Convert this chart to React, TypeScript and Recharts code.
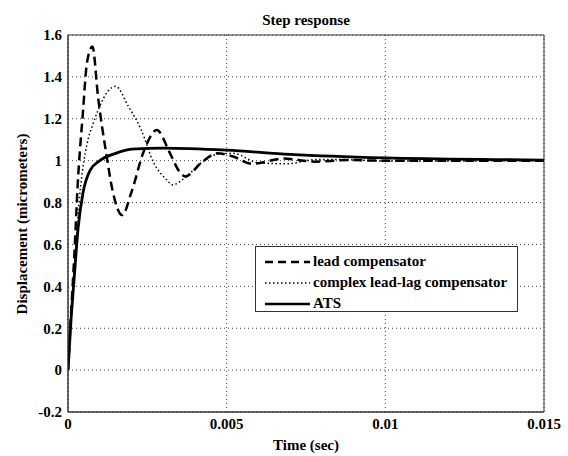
import { CartesianGrid, Legend, Line, LineChart, ReferenceArea, XAxis, YAxis } from "recharts";

// time samples (sec) and displacement (micrometers)
const leadTime = [0, 0.0001, 0.0002, 0.0003, 0.00047, 0.0006, 0.00077, 0.00095, 0.00122, 0.0014, 0.00171, 0.002, 0.0024, 0.0028, 0.0032, 0.0035, 0.0037, 0.0042, 0.0047, 0.0052, 0.0058, 0.0068, 0.0078, 0.0088, 0.01, 0.015];
const leadValue = [0, 0.28, 0.55, 0.87, 1.23, 1.47, 1.545, 1.3, 1.02, 0.86, 0.74, 0.85, 1.05, 1.146, 1.04, 0.95, 0.925, 0.99, 1.035, 1.02, 0.985, 1.01, 0.995, 1.003, 1.0, 1.0];

const lagTime = [0, 0.0002, 0.0004, 0.0006, 0.0008, 0.001, 0.00125, 0.0015, 0.0019, 0.0023, 0.0027, 0.0031, 0.0033, 0.0037, 0.0042, 0.0047, 0.0052, 0.006, 0.0069, 0.0078, 0.0088, 0.01, 0.015];
const lagValue = [0, 0.5, 0.88, 1.08, 1.18, 1.26, 1.33, 1.355, 1.26, 1.15, 0.99, 0.91, 0.885, 0.92, 0.99, 1.03, 1.035, 0.99, 0.985, 1.005, 1.005, 0.998, 1.0];

const atsTime = [0, 0.0001, 0.0002, 0.00032, 0.00047, 0.0007, 0.001, 0.0015, 0.002, 0.003, 0.005, 0.007, 0.01, 0.0135, 0.015];
const atsValue = [0, 0.25, 0.45, 0.68, 0.845, 0.955, 1.0, 1.035, 1.055, 1.06, 1.05, 1.03, 1.013, 1.005, 1.003];

const xTicks = [0, 0.005, 0.01, 0.015];
const yTicks = [-0.2, 0, 0.2, 0.4, 0.6, 0.8, 1, 1.2, 1.4, 1.6];

const legendItems = [
  { name: "lead compensator", dash: "8 5", width: 2.5 },
  { name: "complex lead-lag compensator", dash: "1.5 2.5", width: 1.5 },
  { name: "ATS", dash: undefined, width: 2.5 },
];

const toPoints = (ts: number[], vs: number[]) => ts.map((t, i) => ({ t, v: vs[i] }));

const FONT = "Liberation Serif";
const tickStyle = { fontFamily: FONT, fontSize: 15, fontWeight: 700, fill: "#000" };

function LegendBox() {
  return (
    <div
      style={{
        width: 263,
        height: 66,
        border: "1px solid #333",
        background: "#fff",
        fontFamily: FONT,
        fontSize: 15,
        fontWeight: 700,
        color: "#000",
        paddingTop: 4,
        boxSizing: "border-box",
      }}
    >
      {legendItems.map((item) => (
        <div key={item.name} style={{ display: "flex", alignItems: "center", height: 21 }}>
          <svg width={57} height={10} style={{ flex: "none" }}>
            <line x1={9} y1={5} x2={54} y2={5} stroke="#000" strokeWidth={item.width} strokeDasharray={item.dash} />
          </svg>
          <span style={{ whiteSpace: "nowrap" }}>{item.name}</span>
        </div>
      ))}
    </div>
  );
}

export default function App() {
  return (
    <div style={{ position: "relative", width: 568, height: 456, background: "#fff" }}>
      <style>{"body{margin:0;background:#fff}"}</style>
      <div
        style={{
          position: "absolute",
          left: 206,
          width: 200,
          top: 11,
          textAlign: "center",
          fontFamily: FONT,
          fontSize: 15,
          fontWeight: 700,
          lineHeight: "18px",
        }}
      >
        Step response
      </div>
      <LineChart width={568} height={456} margin={{ top: 35, right: 24, bottom: 0, left: 0 }}>
        <CartesianGrid stroke="#444" strokeDasharray="1 3" />
        <XAxis
          dataKey="t"
          type="number"
          domain={[0, 0.015]}
          ticks={xTicks}
          allowDataOverflow
          height={44}
          tickSize={0}
          tickMargin={6}
          tick={tickStyle}
          axisLine={{ stroke: "#333" }}
          label={{ value: "Time (sec)", position: "insideBottom", offset: 6, style: tickStyle }}
        />
        <YAxis
          type="number"
          domain={[-0.2, 1.6]}
          ticks={yTicks}
          allowDataOverflow
          width={68}
          tickSize={0}
          tickMargin={6}
          tick={tickStyle}
          axisLine={{ stroke: "#333" }}
          label={{
            content: () => (
              <text
                x={22}
                y={224}
                transform="rotate(-90 22 224)"
                textAnchor="middle"
                dominantBaseline="central"
                style={tickStyle}
              >
                Displacement (micrometers)
              </text>
            ),
          }}
        />
        <ReferenceArea x1={0} x2={0.015} y1={-0.2} y2={1.6} fill="none" stroke="#333" strokeWidth={1} ifOverflow="visible" />
        <Line
          data={toPoints(leadTime, leadValue)}
          dataKey="v"
          name="lead compensator"
          type="monotone"
          stroke="#000"
          strokeWidth={2.5}
          strokeDasharray="9 5"
          dot={false}
          isAnimationActive={false}
        />
        <Line
          data={toPoints(lagTime, lagValue)}
          dataKey="v"
          name="complex lead-lag compensator"
          type="monotone"
          stroke="#000"
          strokeWidth={1.5}
          strokeDasharray="1.5 2.5"
          dot={false}
          isAnimationActive={false}
        />
        <Line
          data={toPoints(atsTime, atsValue)}
          dataKey="v"
          name="ATS"
          type="monotone"
          stroke="#000"
          strokeWidth={2.8}
          dot={false}
          isAnimationActive={false}
        />
        <Legend
          layout="vertical"
          align="center"
          verticalAlign="middle"
          content={() => <LegendBox />}
          wrapperStyle={{ position: "absolute", left: 255, top: 246, width: 263, height: 66 }}
        />
      </LineChart>
    </div>
  );
}
